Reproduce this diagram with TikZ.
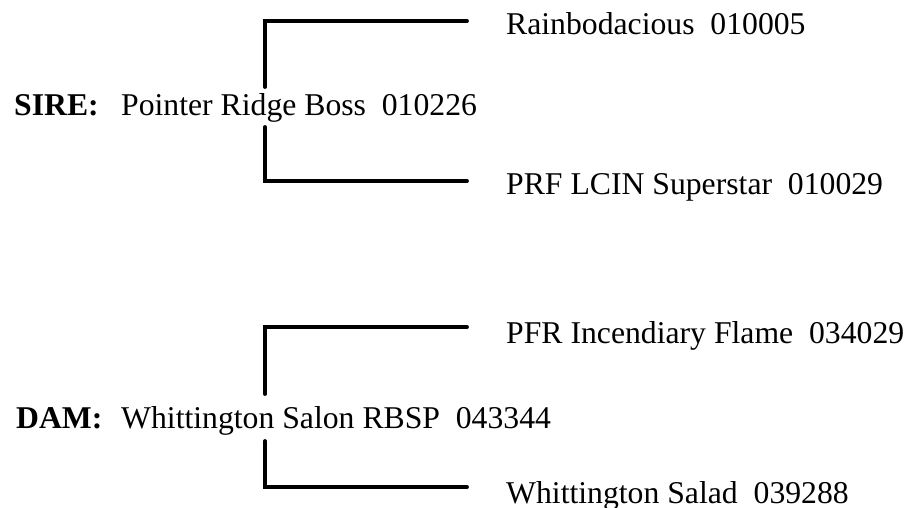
\documentclass[tikz,border=0pt]{standalone}
\usepackage{fontspec}
\setmainfont{Liberation Serif}
\begin{document}
\begin{tikzpicture}[x=1pt,y=-1pt,
  txt/.style={anchor=base west,inner sep=0pt,font=\fontsize{31.7}{36}\selectfont},
  lbl/.style={txt,font=\fontsize{31.7}{36}\selectfont\bfseries},
  bracket/.style={line width=3.8pt,line cap=round,line join=miter}]
\useasboundingbox (0,0) rectangle (907,508);
% sire
\node[lbl] (sirelbl) at (14,116) {SIRE:};
\node[txt] (sire) at (121,116) {Pointer Ridge Boss\ \ 010226};
\node[txt] (rain) at (506,35) {Rainbodacious\ \ 010005};
\node[txt] (prf) at (506,194) {PRF LCIN Superstar\ \ 010029};
\coordinate (sireup) at (265,87);
\coordinate (siredn) at (265,127);
\coordinate (rainend) at (467,21);
\coordinate (prfend) at (467,181);
\draw[bracket] (sireup) |- (rainend);
\draw[bracket] (siredn) |- (prfend);
% dam
\node[lbl] (damlbl) at (16,428) {DAM:};
\node[txt] (dam) at (121,428) {Whittington Salon RBSP\ \ 043344};
\node[txt] (pfr) at (506,343) {PFR Incendiary Flame\ \ 034029};
\node[txt] (salad) at (506,503) {Whittington Salad\ \ 039288};
\coordinate (damup) at (265,394);
\coordinate (damdn) at (265,441);
\coordinate (pfrend) at (467,327);
\coordinate (saladend) at (467,487);
\draw[bracket] (damup) |- (pfrend);
\draw[bracket] (damdn) |- (saladend);
\end{tikzpicture}
\end{document}
